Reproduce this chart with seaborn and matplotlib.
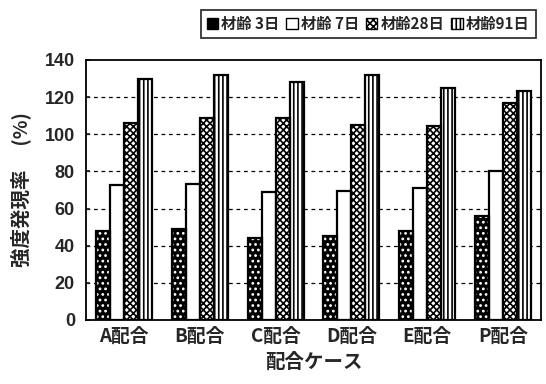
import matplotlib
matplotlib.use("Agg")
import matplotlib.pyplot as plt
from matplotlib.patches import Rectangle
import seaborn as sns
import pandas as pd

# Strength development ratio (%) by mix case and curing age
cases = ["A配合", "B配合", "C配合", "D配合", "E配合", "P配合"]
ages = ["材齢 3日", "材齢 7日", "材齢28日", "材齢91日"]
age_3d = [48, 49, 44, 45, 48, 56]
age_7d = [72.5, 73, 69, 69.5, 71, 80]
age_28d = [106, 109, 109, 105, 104.5, 117]
age_91d = [129.5, 132, 128, 132, 125, 123.5]
y_ticks = [0, 20, 40, 60, 80, 100, 120, 140]

df = pd.DataFrame({
    "case": cases * 4,
    "age": sum([[a] * len(cases) for a in ages], []),
    "value": age_3d + age_7d + age_28d + age_91d,
})

sns.set_theme(style="white")
plt.rcParams["font.family"] = ["Noto Sans CJK JP", "DejaVu Sans"]
plt.rcParams["font.weight"] = "bold"
plt.rcParams["hatch.linewidth"] = 1.2

fig = plt.figure(figsize=(5.46, 3.84), dpi=100)
ax = fig.add_axes([0.1575, 0.1667, 0.9908 - 0.1575, 0.84375 - 0.1667])

sns.barplot(data=df, x="case", y="value", hue="age", order=cases,
            hue_order=ages, width=0.74, gap=0, ax=ax, legend=False,
            palette=["black", "white", "white", "white"], saturation=1)

# fill styles per age: (face, hatch, hatch colour)
styles = [("black", "...", "white"),
          ("white", "", "black"),
          ("white", "xxxxx", "black"),
          ("white", "||||", "black")]

bars = ax.patches[: len(cases) * len(ages)]
for i, p in enumerate(bars):
    face, hatch, hcol = styles[i // len(cases)]
    p.set_facecolor(face)
    p.set_hatch(hatch)
    p.set_edgecolor(hcol)
    p.set_linewidth(0)
    ax.add_patch(Rectangle(p.get_xy(), p.get_width(), p.get_height(),
                           fill=False, edgecolor="black", linewidth=1.6,
                           zorder=p.get_zorder() + 0.1))

ax.set_ylim(0, 140)
ax.set_xlim(-0.5, len(cases) - 0.5)
ax.set_yticks(y_ticks)
ax.set_yticklabels([str(t) for t in y_ticks], fontsize=13, fontweight="bold",
                   family=["Liberation Sans", "DejaVu Sans"])
ax.set_xticks(range(len(cases)))
ax.set_xticklabels(cases, fontsize=13.5, fontweight="bold")
ax.tick_params(axis="x", length=0, pad=5)
ax.tick_params(axis="y", direction="in", length=3, left=True, pad=8)

for t in y_ticks[1:-1]:
    ax.axhline(t, color="black", linestyle=(0, (3, 3)), linewidth=0.9, zorder=0.5)

for s in ax.spines.values():
    s.set_color("black")
    s.set_linewidth(1.3)

ax.set_xlabel("配合ケース", fontsize=14, fontweight="bold", labelpad=5)
ax.set_ylabel("強度発現率　 (%)", fontsize=14, fontweight="bold", labelpad=10)

handles = [Rectangle((0, 0), 1, 1, facecolor=f, hatch=h, edgecolor="black",
                     linewidth=1.0) for f, h, _ in styles]
leg = fig.legend(handles, ages, loc="upper right", ncol=4,
                 bbox_to_anchor=(0.995, 0.995), frameon=True, fancybox=False,
                 edgecolor="black", handlelength=0.75,
                 handleheight=0.75, handletextpad=0.2, columnspacing=0.45,
                 borderpad=0.4, prop={"weight": "bold", "size": 11})
leg.get_frame().set_linewidth(1.3)

fig.savefig("out.png", dpi=100)
